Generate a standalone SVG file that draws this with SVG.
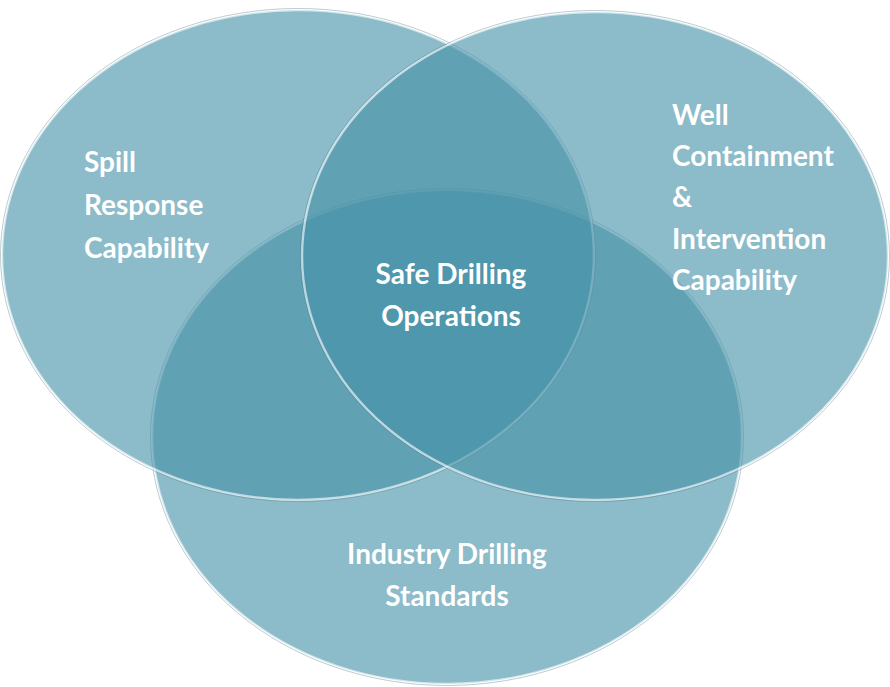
<svg xmlns="http://www.w3.org/2000/svg" width="890" height="687" viewBox="0 0 890 687">
<style>
.c{fill:#4691a8;fill-opacity:0.62;stroke:#ffffff;stroke-opacity:0.6;stroke-width:2.5}
.o{fill:none;stroke:#3d6f80;stroke-opacity:0.35;stroke-width:1}
.t{font-family:Lato,"Open Sans","Liberation Sans",sans-serif;font-weight:bold;font-size:28px;fill:#ffffff}
.m{text-anchor:middle}
</style>
<g id="industry">
<ellipse class="c" cx="447" cy="437" rx="295" ry="247"/>
<ellipse class="o" cx="447" cy="437" rx="296.5" ry="248.5"/>
<text class="t m" x="447" y="564">Industry Drilling</text>
<text class="t m" x="447" y="606">Standards</text>
</g>
<g id="spill">
<ellipse class="c" cx="298" cy="255" rx="296" ry="245"/>
<ellipse class="o" cx="298" cy="255" rx="297.5" ry="246.5"/>
<text class="t" x="84" y="172">Spill</text>
<text class="t" x="84" y="215">Response</text>
<text class="t" x="84" y="258">Capability</text>
</g>
<g id="well">
<ellipse class="c" cx="595" cy="256" rx="293" ry="244"/>
<ellipse class="o" cx="595" cy="256" rx="294.5" ry="245.5"/>
<text class="t" x="672" y="125">Well</text>
<text class="t" x="672" y="166">Containment</text>
<text class="t" x="672" y="207">&amp;</text>
<text class="t" x="672" y="249">Intervention</text>
<text class="t" x="672" y="290">Capability</text>
</g>
<g id="center">
<text class="t m" x="451" y="284">Safe Drilling</text>
<text class="t m" x="451" y="326">Operations</text>
</g>
<g id="connectors"/>
</svg>
